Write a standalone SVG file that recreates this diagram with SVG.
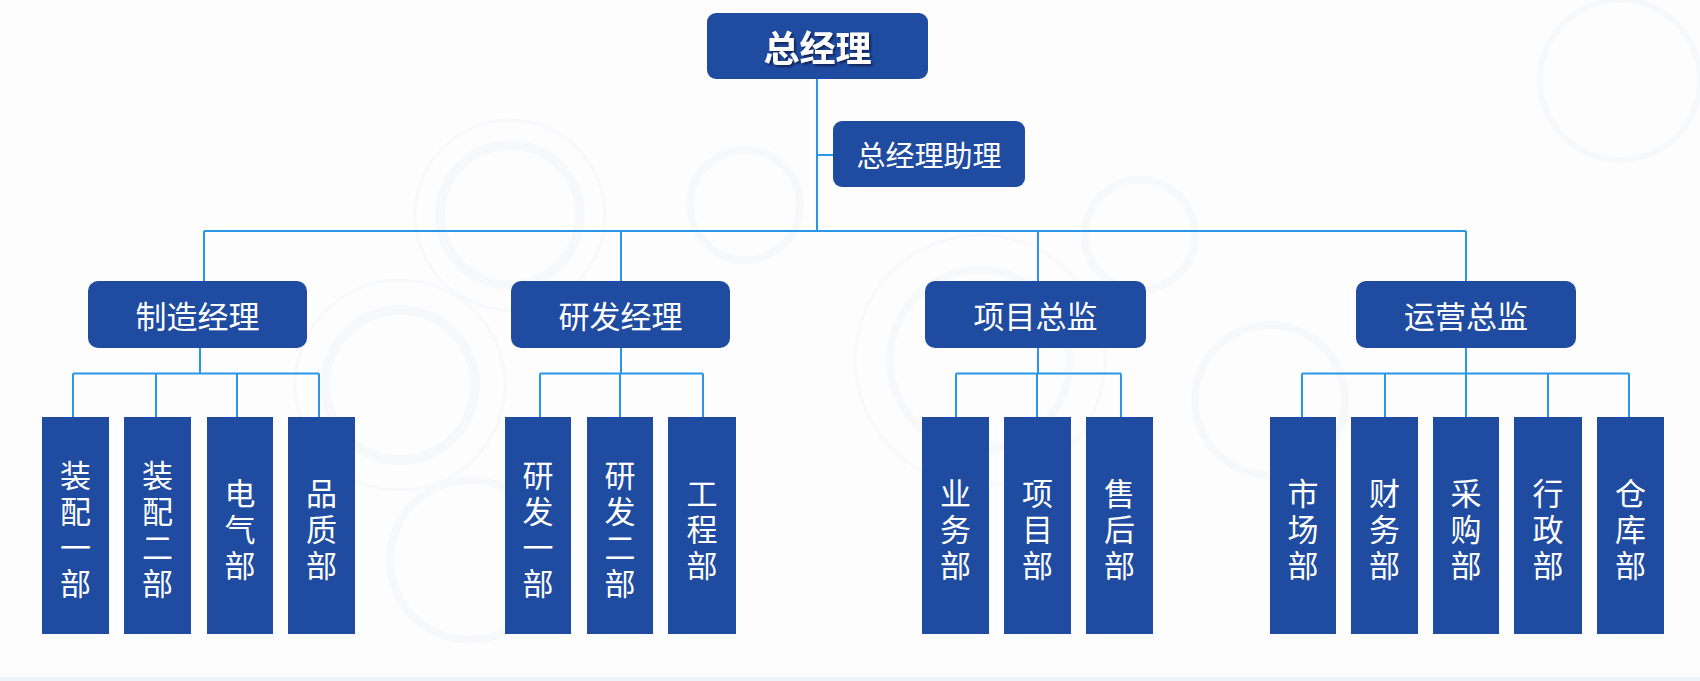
<svg xmlns="http://www.w3.org/2000/svg" width="1700" height="681" viewBox="0 0 1700 681">
<style>
.box{fill:#1f4ca1;}
.tx{fill:#ffffff;font-family:"Noto Sans CJK SC","Noto Sans CJK JP",sans-serif;text-anchor:middle;dominant-baseline:central;}
.mgr{font-size:31px;}
.dep{font-size:31px;}
.ln{stroke:#2a97e6;stroke-width:2;fill:none;}
.gear{fill:none;stroke:#eceef2;}
</style>
<defs>
<filter id="sh" x="-20%" y="-20%" width="140%" height="160%">
<feDropShadow dx="2" dy="2" stdDeviation="1.2" flood-color="#0b1f45" flood-opacity="0.8"/>
</filter>
</defs>
<rect x="0" y="0" width="1700" height="681" fill="#fdfdfe"/>
<rect x="0" y="677" width="1700" height="4" fill="#eef3fa"/>
<g id="bg" opacity="0.3">
<circle class="gear" cx="510" cy="215" r="70" stroke-width="10"/>
<circle class="gear" cx="510" cy="215" r="95" stroke-width="3"/>
<circle class="gear" cx="745" cy="205" r="55" stroke-width="8"/>
<circle class="gear" cx="400" cy="385" r="75" stroke-width="10"/>
<circle class="gear" cx="400" cy="385" r="105" stroke-width="3"/>
<circle class="gear" cx="470" cy="560" r="80" stroke-width="8"/>
<circle class="gear" cx="980" cy="360" r="90" stroke-width="8"/>
<circle class="gear" cx="980" cy="360" r="125" stroke-width="3"/>
<circle class="gear" cx="1140" cy="235" r="55" stroke-width="8"/>
<circle class="gear" cx="1270" cy="400" r="75" stroke-width="8"/>
<circle class="gear" cx="1620" cy="80" r="80" stroke-width="6"/>
</g>
<g id="connectors" class="ln">
<path d="M817,79 V231"/>
<path d="M817,155 H833"/>
<path d="M204,231 H1466"/>
<path d="M204,231 V281 M621,231 V281 M1038,231 V281 M1466,231 V281"/>
<path d="M200,348 V373.5 M73,373.5 H319 M73,373.5 V417 M156,373.5 V417 M237,373.5 V417 M319,373.5 V417"/>
<path d="M621,348 V373.5 M540,373.5 H703 M540,373.5 V417 M620,373.5 V417 M703,373.5 V417"/>
<path d="M1038,348 V373.5 M956,373.5 H1121 M956,373.5 V417 M1037,373.5 V417 M1121,373.5 V417"/>
<path d="M1466,348 V373.5 M1302,373.5 H1629 M1302,373.5 V417 M1385,373.5 V417 M1466,373.5 V417 M1548,373.5 V417 M1629,373.5 V417"/>
</g>
<g id="n-ceo"><rect class="box" x="707" y="13" width="221" height="66" rx="9"/><text class="tx" x="817.5" y="46" font-size="36" font-weight="bold" filter="url(#sh)">总经理</text></g>
<g id="n-assistant"><rect class="box" x="833" y="121" width="192" height="66" rx="9"/><text class="tx" x="929" y="154" font-size="29">总经理助理</text></g>
<g id="n-mfg"><rect class="box" x="88" y="281" width="219" height="67" rx="10"/><text class="tx mgr" x="197.5" y="314.5">制造经理</text></g>
<g id="n-rd"><rect class="box" x="511" y="281" width="219" height="67" rx="10"/><text class="tx mgr" x="620.5" y="314.5">研发经理</text></g>
<g id="n-proj"><rect class="box" x="925" y="281" width="221" height="67" rx="10"/><text class="tx mgr" x="1035.5" y="314.5">项目总监</text></g>
<g id="n-ops"><rect class="box" x="1356" y="281" width="220" height="67" rx="10"/><text class="tx mgr" x="1466" y="314.5">运营总监</text></g>
<g id="d-asm1"><rect class="box" x="42" y="417" width="67" height="217"/><text class="tx dep"><tspan x="75.5" y="473">装</tspan><tspan x="75.5" y="509">配</tspan><tspan x="75.5" y="545">一</tspan><tspan x="75.5" y="581">部</tspan></text></g>
<g id="d-asm2"><rect class="box" x="124" y="417" width="67" height="217"/><text class="tx dep"><tspan x="157.5" y="473">装</tspan><tspan x="157.5" y="509">配</tspan><tspan x="157.5" y="545">二</tspan><tspan x="157.5" y="581">部</tspan></text></g>
<g id="d-elec"><rect class="box" x="207" y="417" width="66" height="217"/><text class="tx dep"><tspan x="240" y="491">电</tspan><tspan x="240" y="527">气</tspan><tspan x="240" y="563">部</tspan></text></g>
<g id="d-qa"><rect class="box" x="288" y="417" width="67" height="217"/><text class="tx dep"><tspan x="321.5" y="491">品</tspan><tspan x="321.5" y="527">质</tspan><tspan x="321.5" y="563">部</tspan></text></g>
<g id="d-rd1"><rect class="box" x="505" y="417" width="66" height="217"/><text class="tx dep"><tspan x="538" y="473">研</tspan><tspan x="538" y="509">发</tspan><tspan x="538" y="545">一</tspan><tspan x="538" y="581">部</tspan></text></g>
<g id="d-rd2"><rect class="box" x="587" y="417" width="66" height="217"/><text class="tx dep"><tspan x="620" y="473">研</tspan><tspan x="620" y="509">发</tspan><tspan x="620" y="545">二</tspan><tspan x="620" y="581">部</tspan></text></g>
<g id="d-eng"><rect class="box" x="668" y="417" width="68" height="217"/><text class="tx dep"><tspan x="702" y="491">工</tspan><tspan x="702" y="527">程</tspan><tspan x="702" y="563">部</tspan></text></g>
<g id="d-biz"><rect class="box" x="922" y="417" width="67" height="217"/><text class="tx dep"><tspan x="955.5" y="491">业</tspan><tspan x="955.5" y="527">务</tspan><tspan x="955.5" y="563">部</tspan></text></g>
<g id="d-prj"><rect class="box" x="1004" y="417" width="67" height="217"/><text class="tx dep"><tspan x="1037.5" y="491">项</tspan><tspan x="1037.5" y="527">目</tspan><tspan x="1037.5" y="563">部</tspan></text></g>
<g id="d-after"><rect class="box" x="1086" y="417" width="67" height="217"/><text class="tx dep"><tspan x="1119.5" y="491">售</tspan><tspan x="1119.5" y="527">后</tspan><tspan x="1119.5" y="563">部</tspan></text></g>
<g id="d-mkt"><rect class="box" x="1270" y="417" width="66" height="217"/><text class="tx dep"><tspan x="1303" y="491">市</tspan><tspan x="1303" y="527">场</tspan><tspan x="1303" y="563">部</tspan></text></g>
<g id="d-fin"><rect class="box" x="1351" y="417" width="67" height="217"/><text class="tx dep"><tspan x="1384.5" y="491">财</tspan><tspan x="1384.5" y="527">务</tspan><tspan x="1384.5" y="563">部</tspan></text></g>
<g id="d-pur"><rect class="box" x="1433" y="417" width="66" height="217"/><text class="tx dep"><tspan x="1466" y="491">采</tspan><tspan x="1466" y="527">购</tspan><tspan x="1466" y="563">部</tspan></text></g>
<g id="d-adm"><rect class="box" x="1514" y="417" width="68" height="217"/><text class="tx dep"><tspan x="1548" y="491">行</tspan><tspan x="1548" y="527">政</tspan><tspan x="1548" y="563">部</tspan></text></g>
<g id="d-wh"><rect class="box" x="1597" y="417" width="67" height="217"/><text class="tx dep"><tspan x="1630.5" y="491">仓</tspan><tspan x="1630.5" y="527">库</tspan><tspan x="1630.5" y="563">部</tspan></text></g>
</svg>
